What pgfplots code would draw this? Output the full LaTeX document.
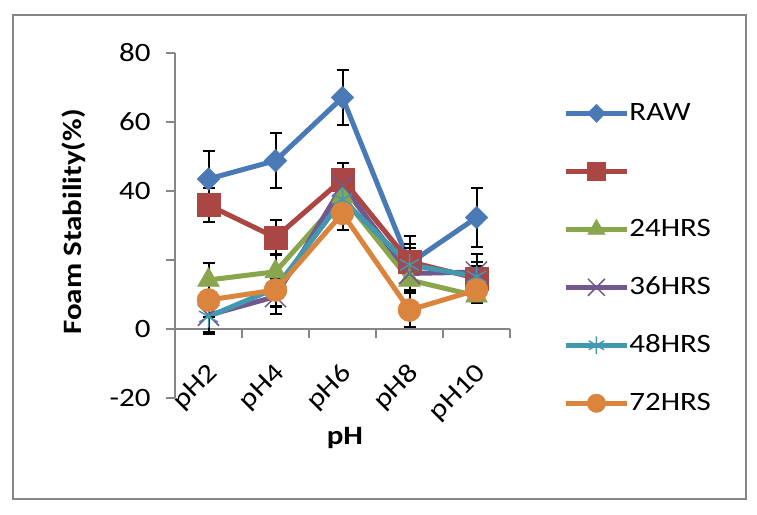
\documentclass[border=0pt]{standalone}
\usepackage{fontspec}
\setmainfont{Carlito}[FakeStretch=1.17]
\usepackage{pgfplots}
\pgfplotsset{compat=1.18}
\definecolor{cRaw}{HTML}{4A7AB5}
\definecolor{cRed}{HTML}{AA4643}
\definecolor{cGreen}{HTML}{89A54E}
\definecolor{cPurple}{HTML}{71588F}
\definecolor{cCyan}{HTML}{4198AF}
\definecolor{cOrange}{HTML}{DB843D}
\definecolor{cAxis}{HTML}{868686}
\pgfplotstableread{
x y e
0 43.5 8
1 48.8 8
2 67.1 8
3 19.0 8
4 32.3 8.5
}\raw
\pgfplotstableread{
x y e
0 35.9 5
1 26.5 5
2 43.4 4.6
3 19.5 5
4 14.7 7
}\red
\pgfplotstableread{
x y e
0 14.2 5
1 16.6 5
2 38.4 4
3 14.2 3
4 9.6 2
}\green
\pgfplotstableread{
x y e
0 4.0 5
1 9.4 5
2 41.5 5
3 16.1 5
4 16.5 3
}\purple
\pgfplotstableread{
x y e
0 3.6 5
1 11.8 5
2 37.5 5
3 18.6 5
4 15.2 3.2
}\cyan
\pgfplotstableread{
x y e
0 8.4 5
1 11.3 5
2 33.5 4.8
3 5.5 5
4 11.3 2
}\orange
\begin{document}
\begin{tikzpicture}[x=1pt,y=1pt]
\path[use as bounding box] (0,0) rectangle (757,514);
\fill[white] (0,0) rectangle (757,514);
\draw[line width=1.5pt, color=cAxis] (13,15) rectangle (746,499);
\begin{axis}[
  at={(175pt,116pt)}, anchor=south west,
  scale only axis, width=335pt, height=345pt,
  xmin=-0.5, xmax=4.5, ymin=-20, ymax=80,
  axis x line*=middle, axis y line*=left,
  hide obscured x ticks=false, hide obscured y ticks=false,
  axis line style={cAxis, line width=1.2pt},
  xtick={0,1,2,3,4}, xticklabels={pH2,pH4,pH6,pH8,pH10},
  x tick style={draw=none},
  extra x ticks={-0.5,0.5,1.5,2.5,3.5,4.5},
  extra x tick labels={},
  extra x tick style={x tick style={draw=cAxis, line width=1.2pt}, major tick length=9pt, tick align=outside},
  ytick={-20,0,20,40,60,80}, yticklabels={-20,0,,40,60,80},
  y tick style={cAxis, line width=1.2pt},
  major tick length=9pt, tick align=outside,
  tick label style={font=\fontsize{26.5}{31}\selectfont},
  xticklabel style={rotate=45, anchor=east, yshift=-26pt, xshift=-15pt},
  yticklabel style={xshift=-12pt},
  xlabel={\textbf{pH}}, ylabel={\textbf{Foam Stability(\%)}},
  label style={font=\fontsize{26.5}{31}\selectfont},
  xlabel style={at={(axis description cs:0.507,-0.116)}, anchor=center},
  ylabel style={at={(axis description cs:-0.301,0.51)}, anchor=center},
  legend style={at={(axis description cs:1.15,0.405)}, anchor=west, draw=none, fill=none,
    font=\fontsize{26.5}{31}\selectfont, row sep=32pt,
    nodes={inner sep=0pt, text height=20pt, text depth=6pt},
    /tikz/every even column/.append style={column sep=8pt}},
  legend cell align=left,
  legend image code/.code={\draw[mark repeat=2,mark phase=2,#1, every mark/.append style={scale=0.8}] plot coordinates {(0pt,0pt) (30.5pt,0pt) (61pt,0pt)};},
  every axis plot/.append style={line width=5pt},
  error bars/y dir=both, error bars/y explicit,
  error bars/error bar style={black, line width=2pt, solid},
  error bars/error mark options={rotate=90, mark size=6pt, black, line width=2pt},
]
\addplot[cRaw, mark=square*, mark size=8pt, mark options={rotate=45, fill=cRaw, line width=0.5pt}] table[x=x, y=y, y error=e] {\raw};
\addlegendentry{RAW}
\addplot[cRed, mark=square*, mark size=11.5pt, mark options={fill=cRed, line width=0.5pt}] table[x=x, y=y, y error=e] {\red};
\addlegendentry{\mbox{}}
\addplot[cGreen, mark=triangle*, mark size=12.5pt, mark options={fill=cGreen, line width=0.5pt}] table[x=x, y=y, y error=e] {\green};
\addlegendentry{24HRS}
\addplot[cPurple, mark=x, mark size=15pt, mark options={line width=1.5pt}] table[x=x, y=y, y error=e] {\purple};
\addlegendentry{36HRS}
\addplot[cCyan, mark=asterisk, mark size=11pt, mark options={line width=1.5pt}] table[x=x, y=y, y error=e] {\cyan};
\addlegendentry{48HRS}
\addplot[cOrange, mark=*, mark size=11.5pt, mark options={fill=cOrange, line width=0.5pt}] table[x=x, y=y, y error=e] {\orange};
\addlegendentry{72HRS}
\end{axis}
\end{tikzpicture}
\end{document}
